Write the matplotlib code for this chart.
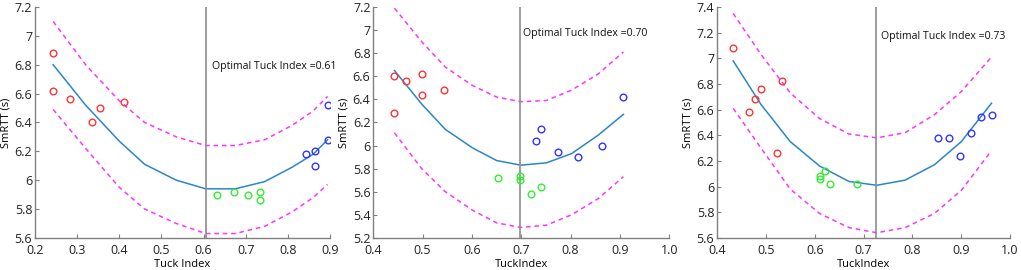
import numpy as np
import matplotlib.pyplot as plt

plt.rcParams['font.family'] = ['Open Sans', 'DejaVu Sans']

# panel 1
p1_red_x = [0.243, 0.243, 0.284, 0.334, 0.354, 0.410]
p1_red_y = [6.88, 6.62, 6.56, 6.40, 6.50, 6.54]
p1_green_x = [0.632, 0.673, 0.705, 0.734, 0.734]
p1_green_y = [5.90, 5.92, 5.90, 5.92, 5.86]
p1_blue_x = [0.843, 0.864, 0.864, 0.894, 0.894]
p1_blue_y = [6.18, 6.20, 6.10, 6.28, 6.52]
p1_fit_x = [0.243, 0.32, 0.40, 0.46, 0.535, 0.605, 0.675, 0.745, 0.81, 0.86, 0.894]
p1_fit_y = [6.80, 6.52, 6.27, 6.11, 6.00, 5.94, 5.94, 5.99, 6.09, 6.18, 6.28]
p1_up_y = [7.10, 6.80, 6.55, 6.40, 6.30, 6.24, 6.24, 6.28, 6.38, 6.48, 6.58]
p1_lo_y = [6.49, 6.22, 5.95, 5.80, 5.70, 5.63, 5.63, 5.68, 5.78, 5.88, 5.97]
p1_opt = 0.606

# panel 2
p2_red_x = [0.443, 0.443, 0.466, 0.498, 0.498, 0.543]
p2_red_y = [6.60, 6.28, 6.56, 6.62, 6.44, 6.48]
p2_green_x = [0.653, 0.697, 0.697, 0.720, 0.741]
p2_green_y = [5.72, 5.74, 5.70, 5.58, 5.64]
p2_blue_x = [0.730, 0.741, 0.775, 0.816, 0.864, 0.907]
p2_blue_y = [6.04, 6.14, 5.94, 5.90, 6.00, 6.42]
p2_fit_x = [0.443, 0.498, 0.546, 0.601, 0.650, 0.699, 0.751, 0.802, 0.856, 0.907]
p2_fit_y = [6.65, 6.36, 6.14, 5.98, 5.87, 5.83, 5.85, 5.93, 6.09, 6.27]
p2_up_y = [7.19, 6.90, 6.68, 6.52, 6.42, 6.38, 6.39, 6.48, 6.62, 6.81]
p2_lo_y = [6.11, 5.80, 5.60, 5.44, 5.33, 5.29, 5.31, 5.40, 5.54, 5.73]
p2_opt = 0.698

# panel 3
p3_red_x = [0.433, 0.466, 0.477, 0.489, 0.533, 0.522]
p3_red_y = [7.08, 6.58, 6.68, 6.76, 6.82, 6.26]
p3_green_x = [0.610, 0.610, 0.621, 0.632, 0.686]
p3_green_y = [6.08, 6.06, 6.12, 6.02, 6.02]
p3_blue_x = [0.852, 0.874, 0.897, 0.919, 0.941, 0.964]
p3_blue_y = [6.38, 6.38, 6.24, 6.42, 6.54, 6.56]
p3_fit_x = [0.433, 0.49, 0.55, 0.61, 0.67, 0.727, 0.785, 0.845, 0.90, 0.962]
p3_fit_y = [6.98, 6.64, 6.35, 6.16, 6.04, 6.01, 6.05, 6.17, 6.35, 6.65]
p3_up_y = [7.35, 7.03, 6.73, 6.53, 6.41, 6.38, 6.42, 6.56, 6.74, 7.01]
p3_lo_y = [6.61, 6.30, 5.98, 5.79, 5.68, 5.64, 5.68, 5.79, 5.97, 6.28]
p3_opt = 0.726

panels = [
    dict(red=(p1_red_x, p1_red_y), green=(p1_green_x, p1_green_y), blue=(p1_blue_x, p1_blue_y),
         fx=p1_fit_x, fy=p1_fit_y, up=p1_up_y, lo=p1_lo_y, opt=p1_opt, label='0.61',
         xlim=(0.2, 0.9), xticks=[0.2, 0.3, 0.4, 0.5, 0.6, 0.7, 0.8, 0.9],
         xtl=['0.2', '0.3', '0.4', '0.5', '0.6', '0.7', '0.8', '0.9'],
         ylim=(5.6, 7.2), yticks=[5.6, 5.8, 6, 6.2, 6.4, 6.6, 6.8, 7, 7.2],
         ytl=['5.6', '5.8', '6', '6.2', '6.4', '6.6', '6.8', '7', '7.2'],
         txt=(0.62, 6.79), xlabel='Tuck Index', rect=[0.0343, 0.119, 0.289, 0.855]),
    dict(red=(p2_red_x, p2_red_y), green=(p2_green_x, p2_green_y), blue=(p2_blue_x, p2_blue_y),
         fx=p2_fit_x, fy=p2_fit_y, up=p2_up_y, lo=p2_lo_y, opt=p2_opt, label='0.70',
         xlim=(0.4, 1.0), xticks=[0.4, 0.5, 0.6, 0.7, 0.8, 0.9, 1.0],
         xtl=['0.4', '0.5', '0.6', '0.7', '0.8', '0.9', '1.0'],
         ylim=(5.2, 7.2), yticks=[5.2, 5.4, 5.6, 5.8, 6, 6.2, 6.4, 6.6, 6.8, 7, 7.2],
         ytl=['5.2', '5.4', '5.6', '5.8', '6', '6.2', '6.4', '6.6', '6.8', '7', '7.2'],
         txt=(0.703, 6.97), xlabel='TuckIndex', rect=[0.3656, 0.119, 0.2899, 0.855]),
    dict(red=(p3_red_x, p3_red_y), green=(p3_green_x, p3_green_y), blue=(p3_blue_x, p3_blue_y),
         fx=p3_fit_x, fy=p3_fit_y, up=p3_up_y, lo=p3_lo_y, opt=p3_opt, label='0.73',
         xlim=(0.4, 1.0), xticks=[0.4, 0.5, 0.6, 0.7, 0.8, 0.9, 1.0],
         xtl=['0.4', '0.5', '0.6', '0.7', '0.8', '0.9', '1.0'],
         ylim=(5.6, 7.4), yticks=[5.6, 5.8, 6, 6.2, 6.4, 6.6, 6.8, 7, 7.2, 7.4],
         ytl=['5.6', '5.8', '6', '6.2', '6.4', '6.6', '6.8', '7', '7.2', '7.4'],
         txt=(0.735, 7.17), xlabel='TuckIndex', rect=[0.7023, 0.119, 0.2870, 0.855]),
]

fig = plt.figure(figsize=(10.21, 2.70), dpi=100)

for p in panels:
    ax = fig.add_axes(p['rect'])
    ax.plot(p['fx'], p['up'], color='#ff33ff', ls=(0, (3, 2.5)), lw=1.1)
    ax.plot(p['fx'], p['lo'], color='#ff33ff', ls=(0, (3, 2.5)), lw=1.1)
    ax.plot(p['fx'], p['fy'], color='#2b86c8', lw=1.1)
    ax.axvline(p['opt'], color='#8c8c8c', lw=1.2)
    for key, col in [('red', '#ff3333'), ('green', '#33ee33'), ('blue', '#3333ff')]:
        xs, ys = p[key]
        ax.plot(xs, ys, 'o', ms=4.8, mfc='none', mec=col, mew=1.0)
    ax.text(p['txt'][0], p['txt'][1], 'Optimal Tuck Index =' + p['label'],
            fontsize=7.6, va='center', ha='left', color='#111111')
    ax.set_xlim(*p['xlim'])
    ax.set_ylim(*p['ylim'])
    ax.set_xticks(p['xticks'])
    ax.set_xticklabels(p['xtl'])
    ax.set_yticks(p['yticks'])
    ax.set_yticklabels(p['ytl'])
    ax.set_xlabel(p['xlabel'], fontsize=8, labelpad=1)
    ax.set_ylabel('SmRTT (s)', fontsize=8, labelpad=2)
    for side in ['top', 'right']:
        ax.spines[side].set_visible(False)
    for side in ['left', 'bottom']:
        ax.spines[side].set_color('#808080')
        ax.spines[side].set_linewidth(1.0)
    ax.tick_params(direction='in', length=3, width=0.8, color='#808080',
                   labelsize=9, labelcolor='#222222')
    ax.tick_params(axis='x', pad=4.5)
    ax.tick_params(axis='y', pad=2)

fig.savefig('out.png', dpi=100)
